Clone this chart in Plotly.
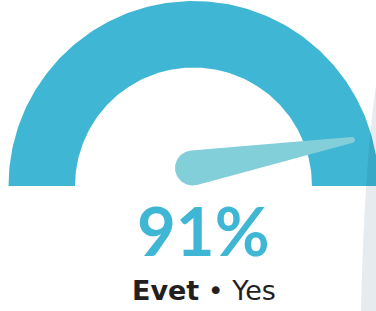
import numpy as np
import plotly.graph_objects as go

# ---- data ----
gauge_min = [0]
gauge_max = [100]
values = [91]
labels_tr = ["Evet"]
labels_en = ["Yes"]

W, H = 376, 311
CX, CY = 193.5, 186.0          # gauge centre in pixel coords
R_OUT, R_IN = 185.0, 118.5
GAUGE_COL = "#40B6D5"
NEEDLE_COL = "#83CFD9"

vmin, vmax, val = gauge_min[0], gauge_max[0], values[0]

def to_px(x, y):
    # y-up local coords -> pixel coords
    return CX + x, CY - y

# gauge band
th = np.linspace(np.pi, 0, 200)
ox, oy = R_OUT * np.cos(th), R_OUT * np.sin(th)
ix, iy = R_IN * np.cos(th[::-1]), R_IN * np.sin(th[::-1])
bx = np.concatenate([ox, ix, ox[:1]])
by = np.concatenate([oy, iy, oy[:1]])
bpx, bpy = to_px(bx, by)

# needle (tapered from base circle to tip circle)
frac = (val - vmin) / (vmax - vmin)
ang = np.pi * (1 - frac)
R_TIP = 165.0
c1 = np.array([-1.0, 18.0]); r1 = 17.5
c2 = np.array([R_TIP * np.cos(ang), R_TIP * np.sin(ang)]); r2 = 3.0
d = np.linalg.norm(c2 - c1)
phi = np.arctan2(*(c2 - c1)[::-1])
beta = np.arccos((r1 - r2) / d)
a_tip = np.linspace(phi - beta, phi + beta, 40)
a_base = np.linspace(phi + beta, phi + 2 * np.pi - beta, 80)
nx = np.concatenate([c2[0] + r2 * np.cos(a_tip), c1[0] + r1 * np.cos(a_base)])
ny = np.concatenate([c2[1] + r2 * np.sin(a_tip), c1[1] + r1 * np.sin(a_base)])
nx = np.append(nx, nx[0]); ny = np.append(ny, ny[0])
npx, npy = to_px(nx, ny)

fig = go.Figure()
fig.add_trace(go.Scatter(x=bpx, y=bpy, mode="lines", fill="toself",
                         fillcolor=GAUGE_COL, line=dict(width=0, color=GAUGE_COL),
                         hoverinfo="skip", showlegend=False))
fig.add_trace(go.Scatter(x=npx, y=npy, mode="lines", fill="toself",
                         fillcolor=NEEDLE_COL, line=dict(width=0, color=NEEDLE_COL),
                         hoverinfo="skip", showlegend=False))

# decorative neighbouring card edge on the right
fig.add_shape(type="path", xref="x", yref="y",
              path="M 376,85 Q 364,170 361,311 L 376,311 Z",
              fillcolor="rgba(0,60,90,0.1)", line=dict(width=0), layer="above")

fig.add_annotation(x=203, y=230, xref="x", yref="y", text=f"<b>{val}%</b>",
                   showarrow=False, xanchor="center", yanchor="middle",
                   font=dict(family="Lato", size=67, color=GAUGE_COL))
fig.add_annotation(x=204, y=290, xref="x", yref="y",
                   text=f"<b>{labels_tr[0]}</b> • {labels_en[0]}",
                   showarrow=False, xanchor="center", yanchor="middle",
                   font=dict(family="DejaVu Sans", size=27, color="#231F20"))

fig.update_layout(width=W, height=H, margin=dict(l=0, r=0, t=0, b=0),
                  paper_bgcolor="white", plot_bgcolor="white",
                  xaxis=dict(range=[0, W], visible=False, fixedrange=True),
                  yaxis=dict(range=[H, 0], visible=False, fixedrange=True),
                  showlegend=False)
fig.write_html("out.html", config={"displayModeBar": False},
               post_script="document.body.style.margin='0';document.body.style.overflow='hidden';")
